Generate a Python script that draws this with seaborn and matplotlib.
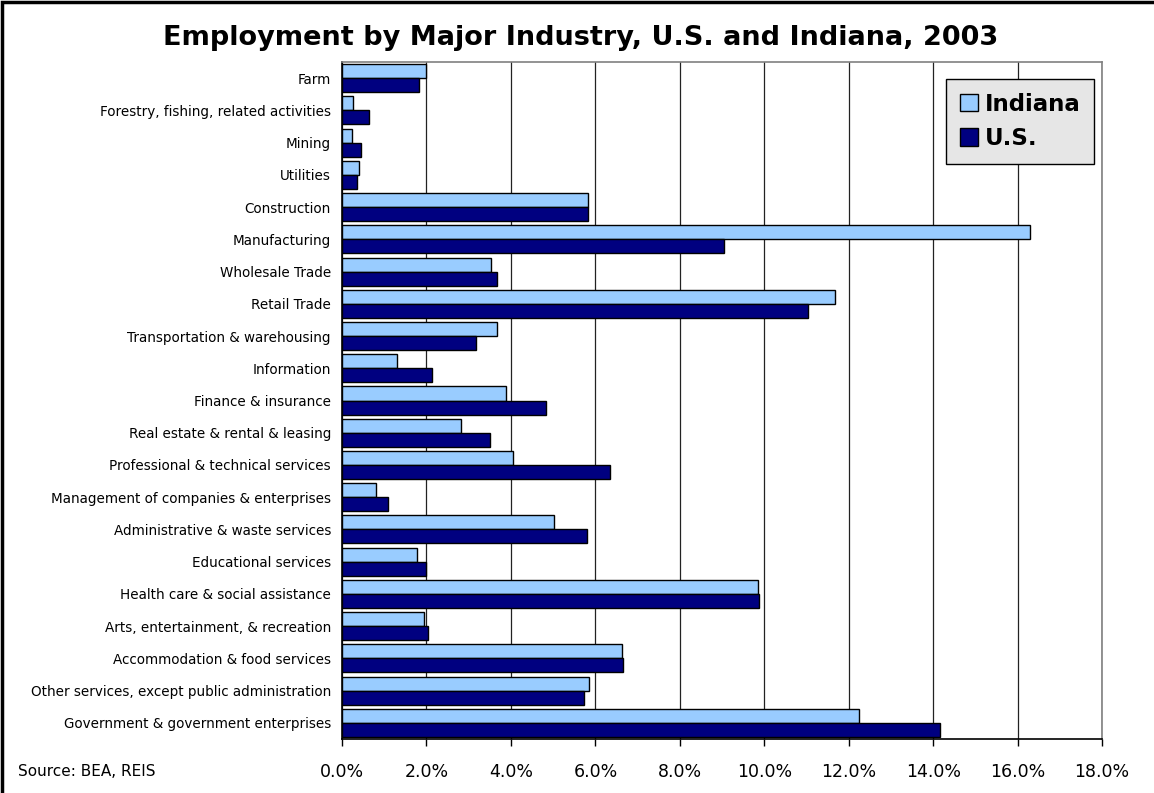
import matplotlib
matplotlib.use("Agg")
import matplotlib.pyplot as plt
from matplotlib.patches import Rectangle
from matplotlib.ticker import FuncFormatter, MultipleLocator
import pandas as pd
import seaborn as sns

# Data (share of total employment, %)
industries = [
    "Farm",
    "Forestry, fishing, related activities",
    "Mining",
    "Utilities",
    "Construction",
    "Manufacturing",
    "Wholesale Trade",
    "Retail Trade",
    "Transportation & warehousing",
    "Information",
    "Finance & insurance",
    "Real estate & rental & leasing",
    "Professional & technical services",
    "Management of companies & enterprises",
    "Administrative & waste services",
    "Educational services",
    "Health care & social assistance",
    "Arts, entertainment, & recreation",
    "Accommodation & food services",
    "Other services, except public administration",
    "Government & government enterprises",
]
indiana = [1.98, 0.26, 0.24, 0.41, 5.83, 16.30, 3.53, 11.67, 3.68, 1.29, 3.88,
           2.82, 4.04, 0.80, 5.02, 1.78, 9.84, 1.95, 6.62, 5.86, 12.25]
us = [1.82, 0.65, 0.44, 0.35, 5.82, 9.05, 3.66, 11.04, 3.18, 2.13, 4.82,
      3.50, 6.34, 1.09, 5.81, 1.99, 9.88, 2.03, 6.66, 5.74, 14.16]
series = ["Indiana", "U.S."]
colors = ["#99CCFF", "#000080"]

df = pd.DataFrame({
    "Industry": industries * 2,
    "Share": indiana + us,
    "Region": ["Indiana"] * len(industries) + ["U.S."] * len(industries),
})

sns.set_style("white")
plt.rcParams["font.family"] = ["DejaVu Sans"]
plt.rcParams["text.color"] = "black"
plt.rcParams["xtick.color"] = "black"
plt.rcParams["ytick.color"] = "black"

fig = plt.figure(figsize=(11.54, 7.93), dpi=100)
ax = fig.add_axes([0.2964, 0.0681, 0.6586, 0.8537])

# gridlines first so they sit behind the bars
ax.set_axisbelow(True)
sns.barplot(data=df, x="Share", y="Industry", hue="Region", hue_order=series,
            palette=colors, orient="h", width=0.87, edgecolor="black",
            linewidth=1.0, saturation=1, ax=ax)

ax.set_xlim(0, 18)
ax.set_ylim(len(industries) - 0.5, -0.5)
ax.xaxis.set_major_locator(MultipleLocator(2))
ax.xaxis.set_major_formatter(FuncFormatter(lambda v, p: f"{v:.1f}%"))
ax.grid(axis="x", color="#222222", linewidth=0.9)
ax.grid(axis="y", visible=False)
ax.set_xlabel("")
ax.set_ylabel("")

# y tick labels at centers, tick marks between categories
ax.set_yticks(range(len(industries)))
ax.set_yticklabels(industries, fontsize=9.75)
ax.set_yticks([i - 0.5 for i in range(len(industries) + 1)], minor=True)
ax.tick_params(axis="y", which="major", length=0, pad=8)
ax.tick_params(axis="y", which="minor", length=5, width=1, direction="out", color="black")
ax.tick_params(axis="x", which="major", length=5, width=1, direction="out",
               labelsize=12.5, pad=12, color="black")
ax.tick_params(left=True, bottom=True)

for side in ["left", "bottom"]:
    ax.spines[side].set_color("black")
    ax.spines[side].set_linewidth(1.2)
for side in ["top", "right"]:
    ax.spines[side].set_color("#808080")
    ax.spines[side].set_linewidth(1.2)

leg = ax.legend(loc="upper right", bbox_to_anchor=(0.99, 0.975), borderaxespad=0,
                frameon=True, fancybox=False, handlelength=0.8, handleheight=0.8,
                handletextpad=0.3, labelspacing=0.5, borderpad=0.6,
                prop={"weight": "bold", "size": 16.5})
leg.get_frame().set_facecolor("#E6E6E6")
leg.get_frame().set_edgecolor("black")
leg.get_frame().set_linewidth(1.0)
leg.get_frame().set_alpha(1)

fig.text(0.503, 0.952, "Employment by Major Industry, U.S. and Indiana, 2003",
         ha="center", va="center", fontsize=19.5, fontweight="bold")
fig.text(0.0156, 0.0265, "Source: BEA, REIS", ha="left", va="center", fontsize=11)

# outer chart frame
fig.patches.append(Rectangle((0.002, -0.01), 1.02, 1.007, transform=fig.transFigure,
                             fill=False, edgecolor="black", linewidth=2.5))

fig.savefig("out.png", dpi=100)
